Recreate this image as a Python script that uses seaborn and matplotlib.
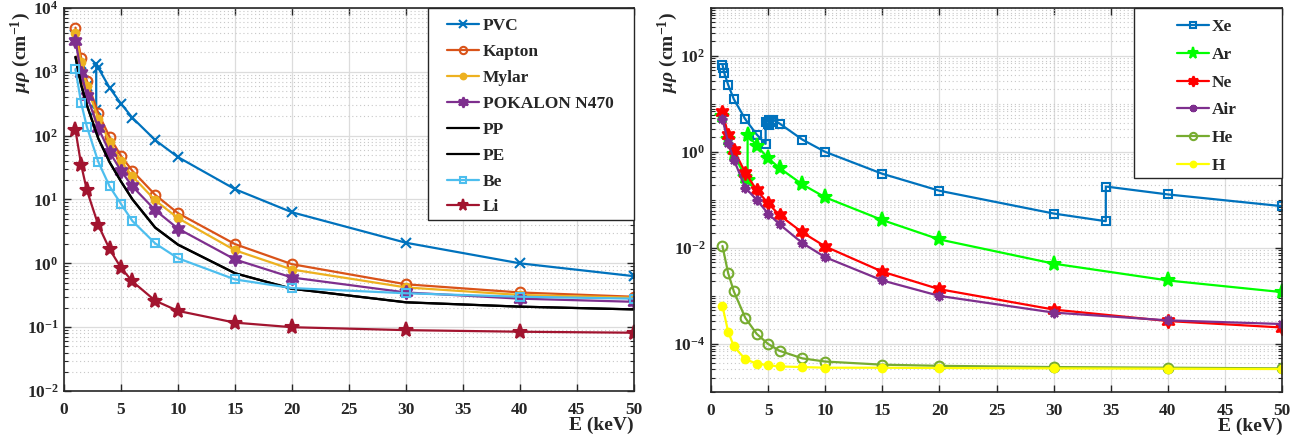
import numpy as np
import matplotlib
matplotlib.use("Agg")
import matplotlib.pyplot as plt
import matplotlib.ticker as mticker
from matplotlib.patches import Rectangle
from matplotlib import font_manager
import seaborn as sns

# ---------------- Données : fenêtres (gauche) ----------------
E = [1, 1.5, 2, 3, 4, 5, 6, 8, 10, 15, 20, 30, 40, 50]

pvc_E = [1, 1.5, 2, 2.8224, 2.8224, 3, 4, 5, 6, 8, 10, 15, 20, 30, 40, 50]
pvc = [3700, 1300, 600, 250, 1300, 1150, 560, 316, 190, 85, 46, 14.5, 6.3, 2.1, 1.0, 0.63]
kapton = [4900, 1650, 720, 225, 95, 48, 28, 11.8, 6.1, 2.0, 0.97, 0.47, 0.35, 0.30]
mylar = [4100, 1400, 600, 185, 80, 40, 23, 9.7, 5.1, 1.6, 0.8, 0.42, 0.32, 0.29]
pokalon = [3050, 960, 420, 132, 55, 28, 16, 6.8, 3.5, 1.15, 0.6, 0.35, 0.28, 0.25]
pp = [1700, 620, 300, 90, 38, 19, 10, 3.6, 1.95, 0.70, 0.40, 0.245, 0.21, 0.19]
pe = [1710, 625, 302, 91, 38.5, 19.2, 10.1, 3.65, 1.97, 0.70, 0.40, 0.246, 0.21, 0.19]
be = [1100, 325, 138, 39, 16, 8.5, 4.6, 2.05, 1.2, 0.56, 0.41, 0.34, 0.30, 0.28]
li = [123, 35, 14, 4.0, 1.66, 0.85, 0.52, 0.26, 0.18, 0.118, 0.10, 0.09, 0.085, 0.082]

# ---------------- Données : gaz (droite) ----------------
xe_E = [1, 1.0721, 1.1487, 1.5, 2, 3, 4, 4.7822, 4.7822, 5, 5.1037, 5.1037, 5.4528, 5.4528,
        6, 8, 10, 15, 20, 30, 34.5614, 34.5614, 40, 50]
xe = [66, 55, 45, 25, 12.5, 4.8, 2.3, 1.47, 4.2, 3.8, 3.6, 4.6, 4.2, 4.7,
      3.9, 1.8, 1.0, 0.35, 0.155, 0.052, 0.036, 0.19, 0.13, 0.074]
ar_E = [1, 1.5, 2, 3, 3.2029, 3.2029, 4, 5, 6, 8, 10, 15, 20, 30, 40, 50]
ar = [5.5, 1.9, 0.9, 0.3, 0.26, 2.3, 1.35, 0.74, 0.46, 0.21, 0.113, 0.038, 0.015, 0.0047, 0.0021, 0.0012]
ne = [6.8, 2.3, 1.1, 0.37, 0.16, 0.085, 0.048, 0.021, 0.0107, 0.0032, 0.00138, 0.00052, 0.0003, 0.00022]
air = [4.9, 1.55, 0.69, 0.18, 0.1, 0.052, 0.031, 0.0126, 0.0064, 0.0021, 0.001, 0.00045, 0.00031, 0.00026]
he = [0.011, 0.003, 0.00124, 0.00035, 0.000162, 0.0001, 7.2e-5, 5.0e-5, 4.3e-5, 3.7e-5, 3.5e-5, 3.3e-5, 3.2e-5, 3.1e-5]
h = [6.2e-4, 1.8e-4, 8.9e-5, 4.8e-5, 3.9e-5, 3.6e-5, 3.4e-5, 3.3e-5, 3.2e-5, 3.2e-5, 3.15e-5, 3.1e-5, 3.05e-5, 3.0e-5]

x_ticks = [0, 5, 10, 15, 20, 25, 30, 35, 40, 45, 50]
y_exp_gauche = [-2, -1, 0, 1, 2, 3, 4]
y_exp_droite = [-4, -2, 0, 2]

# ---------------- Style ----------------
sns.set_style("ticks")
plt.rcParams['font.family'] = ['Liberation Serif', 'DejaVu Serif']
plt.rcParams['font.weight'] = 'bold'
plt.rcParams['axes.labelweight'] = 'bold'
plt.rcParams['mathtext.fontset'] = 'custom'
plt.rcParams['mathtext.rm'] = 'Liberation Serif:bold'
plt.rcParams['mathtext.it'] = 'Liberation Serif:italic:bold'
plt.rcParams['mathtext.bf'] = 'Liberation Serif:bold'

hexa = (6, 1, 0)
aster = (8, 2, 0)
sombre = '#262626'
police_grad = font_manager.FontProperties(family='Liberation Serif', weight='bold', size=12.5)

fig = plt.figure(figsize=(13.07, 4.36), dpi=100)
ax1 = fig.add_axes([0.049, 0.103, 0.436, 0.879])
ax2 = fig.add_axes([0.544, 0.101, 0.437, 0.881])


def trace(ax, x, y, lab, col, mk=None, ms=6, ouvert=False):
    kw = dict(color=col, linewidth=1.6, label=lab, estimator=None, sort=False)
    if mk is not None:
        kw.update(marker=mk, markersize=ms, markeredgecolor=col,
                  markerfacecolor='none' if ouvert else col, markeredgewidth=1.5)
    sns.lineplot(x=x, y=y, ax=ax, **kw)


trace(ax1, pvc_E, pvc, 'PVC', '#0072BD', 'x', 7)
trace(ax1, E, kapton, 'Kapton', '#D95319', 'o', 7, ouvert=True)
trace(ax1, E, mylar, 'Mylar', '#EDB120', '.', 11)
trace(ax1, E, pokalon, 'POKALON N470', '#7E2F8E', hexa, 10)
trace(ax1, E, pp, 'PP', 'black')
trace(ax1, E, pe, 'PE', 'black')
trace(ax1, E, be, 'Be', '#4DBEEE', 's', 6, ouvert=True)
trace(ax1, E, li, 'Li', '#A2142F', '*', 11)

trace(ax2, xe_E, xe, 'Xe', '#0072BD', 's', 6, ouvert=True)
trace(ax2, ar_E, ar, 'Ar', '#00FF00', '*', 11)
trace(ax2, E, ne, 'Ne', '#FF0000', hexa, 10)
trace(ax2, E, air, 'Air', '#7E2F8E', aster, 7)
trace(ax2, E, he, 'He', '#77AC30', 'o', 7, ouvert=True)
trace(ax2, E, h, 'H', '#FFFF00', '.', 11)

# cadre de légende (x0, y0), ancrage du contenu, espacement des lignes
cadres = {ax1: ((0.639, 0.446), (0.672, 0.973), 0.56),
          ax2: ((0.741, 0.557), (0.815, 0.971), 0.67)}

for ax, ylim, expo in [(ax1, (1e-2, 1e4), y_exp_gauche), (ax2, (1e-5, 1e3), y_exp_droite)]:
    ax.set_yscale('log')
    ax.set_xlim(0, 50)
    ax.set_xticks(x_ticks, labels=[str(v) for v in x_ticks], fontproperties=police_grad)
    ax.set_yticks([10.0 ** k for k in expo],
                  labels=[r'$\mathbf{10^{%d}}$' % k for k in expo], fontproperties=police_grad)
    ax.yaxis.set_minor_locator(mticker.LogLocator(base=10, subs=np.arange(1, 10), numticks=30))
    ax.yaxis.set_minor_formatter(mticker.NullFormatter())
    ax.set_ylim(*ylim)
    ax.grid(which='major', axis='both', color='#dcdcdc', linewidth=0.9)
    ax.grid(which='minor', axis='y', color='#c8c8c8', linestyle=(0, (1, 2.5)), linewidth=0.8)
    ax.set_axisbelow(True)
    ax.tick_params(which='both', direction='in', top=True, right=True, color=sombre)
    ax.tick_params(axis='x', pad=8)
    ax.tick_params(axis='y', pad=4)
    ax.tick_params(which='major', length=5, width=1)
    ax.tick_params(which='minor', length=3, width=0.8)
    for s in ax.spines.values():
        s.set_color(sombre)
        s.set_linewidth(1.2)
    ax.set_xlabel('E (keV)', loc='right', fontsize=14, labelpad=-1)
    ax.set_ylabel(r'$\mu\rho$ (cm$^{-1}$)', loc='top', fontsize=14)
    ax.yaxis.set_label_coords(-0.054, 0.99)

    (x0, y0), ancre, esp = cadres[ax]
    ax.add_patch(Rectangle((x0, y0), 1 - x0, 1 - y0, transform=ax.transAxes,
                           facecolor='white', edgecolor=sombre, linewidth=1.0,
                           zorder=4, clip_on=False))
    leg = ax.legend(loc='upper left', bbox_to_anchor=ancre, borderaxespad=0, borderpad=0,
                    frameon=False, numpoints=1, handlelength=1.85, handletextpad=0.2,
                    labelspacing=esp, prop={'size': 12.5, 'weight': 'bold'})
    leg.set_zorder(5)
    for lh in leg.get_lines():
        lh.set_markersize(lh.get_markersize() * 0.75)

fig.savefig('out.png', dpi=100)
